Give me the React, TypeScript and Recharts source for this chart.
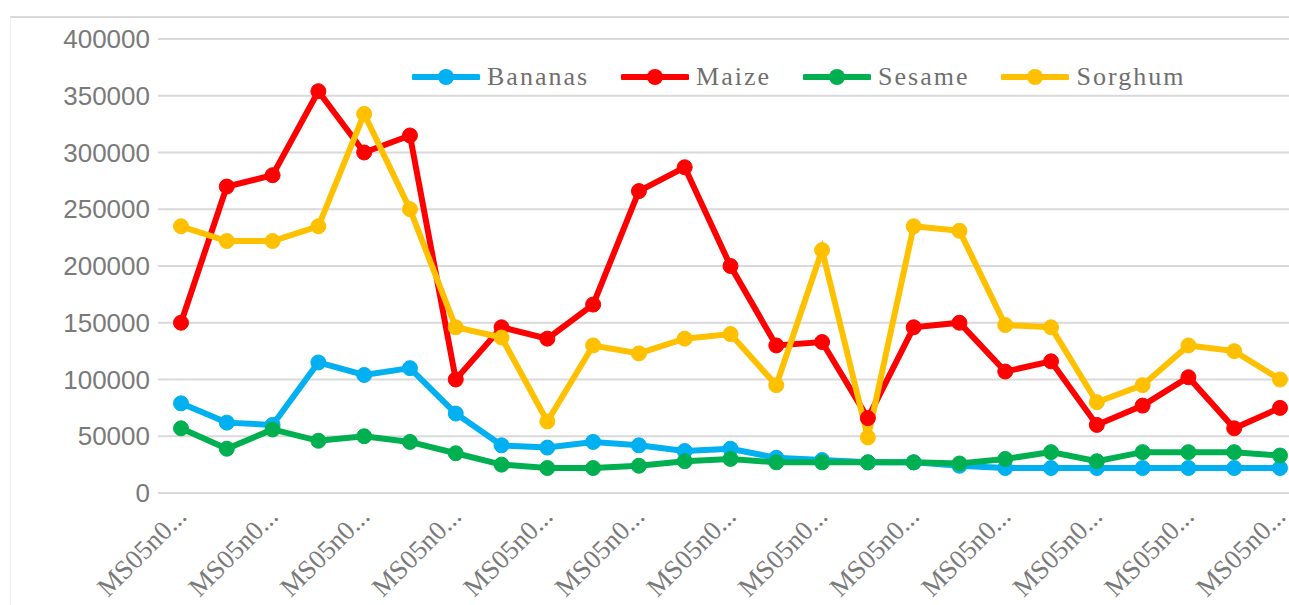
import React from 'react'
import { LineChart, Line, XAxis, YAxis, CartesianGrid } from 'recharts'

const categories = [
  'MS05n001', 'MS05n002', 'MS05n003', 'MS05n004', 'MS05n005', 'MS05n006', 'MS05n007', 'MS05n008', 'MS05n009',
  'MS05n010', 'MS05n011', 'MS05n012', 'MS05n013', 'MS05n014', 'MS05n015', 'MS05n016', 'MS05n017', 'MS05n018',
  'MS05n019', 'MS05n020', 'MS05n021', 'MS05n022', 'MS05n023', 'MS05n024', 'MS05n025',
]

const bananas = [
  79000, 62000, 60000, 115000, 104000, 110000, 70000, 42000, 40000, 45000, 42000, 37000, 39000,
  31000, 29000, 27000, 27000, 24000, 22000, 22000, 22000, 22000, 22000, 22000, 22000,
]
const maize = [
  150000, 270000, 280000, 354000, 300000, 315000, 100000, 146000, 136000, 166000, 266000, 287000, 200000,
  130000, 133000, 66000, 146000, 150000, 107000, 116000, 60000, 77000, 102000, 57000, 75000,
]
const sesame = [
  57000, 39000, 56000, 46000, 50000, 45000, 35000, 25000, 22000, 22000, 24000, 28000, 30000,
  27000, 27000, 27000, 27000, 26000, 30000, 36000, 28000, 36000, 36000, 36000, 33000,
]
const sorghum = [
  235000, 222000, 222000, 235000, 334000, 250000, 146000, 137000, 63000, 130000, 123000, 136000, 140000,
  95000, 214000, 49000, 235000, 231000, 148000, 146000, 80000, 95000, 130000, 125000, 100000,
]

const yTicks = [0, 50000, 100000, 150000, 200000, 250000, 300000, 350000, 400000]

const seriesList = [
  { key: 'Bananas', values: bananas, color: '#00B0F0' },
  { key: 'Maize', values: maize, color: '#FF0000' },
  { key: 'Sesame', values: sesame, color: '#00B050' },
  { key: 'Sorghum', values: sorghum, color: '#FFC000' },
]

const data = categories.map((c, i) => {
  const row: Record<string, string | number> = { name: c }
  seriesList.forEach(s => { row[s.key] = s.values[i] })
  return row
})

const shorten = (s: string) => s.slice(0, 6) + '...'

function XTick(props: any) {
  const { x, y, payload } = props
  return (
    <g transform={`translate(${x + 7},${y + 17})`}>
      <text
        textAnchor="end"
        transform="rotate(-45)"
        fill="#7a7a7a"
        fontSize={27}
        fontFamily="'Liberation Serif', serif"
      >
        {shorten(payload.value)}
      </text>
    </g>
  )
}

function LegendBox() {
  return (
    <div style={{ position: 'absolute', left: 412, top: 62, display: 'flex', alignItems: 'center', fontFamily: "'Liberation Serif', serif", fontSize: 26, color: '#6f6f6f' }}>
      {seriesList.map(s => (
        <div key={s.key} style={{ display: 'flex', alignItems: 'center', marginRight: 32 }}>
          <svg width={68} height={20}>
            <line x1={2} y1={10} x2={66} y2={10} stroke={s.color} strokeWidth={6} strokeLinecap="round" />
            <circle cx={34} cy={10} r={8} fill={s.color} />
          </svg>
          <span style={{ marginLeft: 7, letterSpacing: 2 }}>{s.key}</span>
        </div>
      ))}
    </div>
  )
}

export default function App() {
  return (
    <div style={{ position: 'absolute', left: 0, top: 0, width: 1289, height: 605, overflow: 'hidden', background: '#fff' }}>
      <div style={{ position: 'absolute', left: 10, top: 16, right: 0, bottom: 0, borderTop: '2px solid #d9d9d9', borderLeft: '1px solid #eeeeee' }} />
      <LineChart
        width={1312}
        height={605}
        data={data}
        margin={{ top: 39, right: 9, left: 0, bottom: 0 }}
        style={{ position: 'absolute', left: 0, top: 0 }}
      >
        <CartesianGrid vertical={false} stroke="#d9d9d9" strokeWidth={2} />
        <XAxis
          dataKey="name"
          interval={1}
          axisLine={false}
          tickLine={false}
          height={112}
          padding={{ left: 23, right: 23 }}
          tick={<XTick />}
        />
        <YAxis
          domain={[0, 400000]}
          ticks={yTicks}
          width={158}
          axisLine={false}
          tickLine={false}
          tick={{ fill: '#7a7a7a', fontSize: 26, fontFamily: "'Liberation Sans', sans-serif" }}
        />
        {seriesList.map(s => (
          <Line
            key={s.key}
            dataKey={s.key}
            stroke={s.color}
            strokeWidth={6}
            dot={{ r: 7.5, fill: s.color, stroke: s.color, strokeWidth: 1 }}
            activeDot={false}
            isAnimationActive={false}
          />
        ))}
      </LineChart>
      <LegendBox />
    </div>
  )
}
